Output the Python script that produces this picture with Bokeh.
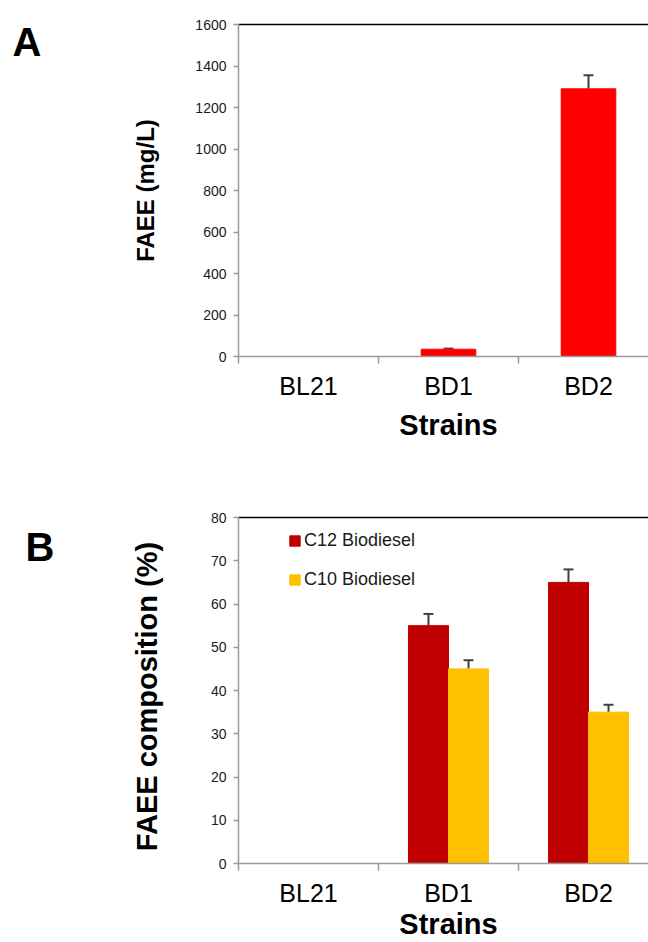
import math
from bokeh.plotting import figure
from bokeh.models import (ColumnDataSource, FixedTicker, Whisker, TeeHead, Label,
                          Legend, LegendItem, Range1d, LinearAxis)
from bokeh.layouts import column
from bokeh.embed import file_html
from bokeh.resources import INLINE

# ---------------- data ----------------
strains = ["BL21", "BD1", "BD2"]
faee_mgL = [0, 35, 1290]
faee_err = [0, 3, 65]
c12_pct = [0, 55, 65]
c12_err = [0, 2.7, 3.0]
c10_pct = [0, 45, 35]
c10_err = [0, 2.0, 1.7]
yticks_a = [0, 200, 400, 600, 800, 1000, 1200, 1400, 1600]
yticks_b = [0, 10, 20, 30, 40, 50, 60, 70, 80]

FONT = "Liberation Sans"
AXIS_GRAY = "#9a9a9a"
ERR_COL = "#404040"

# layout (pixels)
W = 648
PLOT_LEFT = 238
CAT_PX = 140

xs = [i + 0.5 for i in range(len(strains))]
x_end = (W - PLOT_LEFT) / CAT_PX


def base_fig(height, plot_top, plot_bottom, yticks):
    ymax = yticks[-1]
    scale = ymax / (plot_bottom - plot_top)        # data units per pixel
    y0 = -(height - plot_bottom) * scale
    y1 = ymax + plot_top * scale
    p = figure(width=W, height=height,
               x_range=Range1d(-PLOT_LEFT / CAT_PX, x_end), y_range=Range1d(y0, y1),
               x_axis_type=None, y_axis_type=None,
               output_backend="svg", toolbar_location=None,
               min_border=0, min_border_left=0, min_border_right=0,
               min_border_top=0, min_border_bottom=0)
    p.outline_line_color = None
    p.grid.visible = False
    p.background_fill_color = "white"
    p.border_fill_color = "white"

    xa = LinearAxis(fixed_location=0, bounds=(0, x_end))
    xa.ticker = FixedTicker(ticks=xs, minor_ticks=list(range(len(strains) + 1)))
    xa.major_label_overrides = {x: s for x, s in zip(xs, strains)}
    xa.major_tick_out = 0
    xa.major_tick_in = 0
    xa.minor_tick_out = 7
    xa.minor_tick_in = 0
    xa.minor_tick_line_color = AXIS_GRAY
    xa.minor_tick_line_width = 1.5
    xa.axis_line_color = AXIS_GRAY
    xa.axis_line_width = 1.5
    xa.major_label_text_font = FONT
    xa.major_label_text_font_size = "25px"
    xa.major_label_text_color = "black"
    xa.major_label_standoff = 8
    p.add_layout(xa, "below")

    ya = LinearAxis(fixed_location=0, bounds=(0, ymax))
    ya.ticker = FixedTicker(ticks=yticks)
    ya.major_tick_out = 5
    ya.major_tick_in = 0
    ya.minor_tick_out = 0
    ya.minor_tick_in = 0
    ya.major_tick_line_color = AXIS_GRAY
    ya.major_tick_line_width = 1.5
    ya.axis_line_color = AXIS_GRAY
    ya.axis_line_width = 1.5
    ya.major_label_text_font = FONT
    ya.major_label_text_font_size = "14px"
    ya.major_label_text_color = "#1a1a1a"
    ya.major_label_standoff = 7
    p.add_layout(ya, "left")

    top = LinearAxis(fixed_location=ymax, bounds=(0, x_end))
    top.ticker = FixedTicker(ticks=[])
    top.major_tick_out = 0
    top.major_tick_in = 0
    top.minor_tick_out = 0
    top.minor_tick_in = 0
    top.axis_line_color = "black"
    top.axis_line_width = 1.5
    top.major_label_text_font_size = "0px"
    p.add_layout(top, "above")
    return p


def add_err(p, x, vals, errs):
    rows = [(xx, v, e) for xx, v, e in zip(x, vals, errs) if v > 0]
    src = ColumnDataSource(dict(x=[r[0] for r in rows],
                                lower=[r[1] for r in rows],
                                upper=[r[1] + r[2] for r in rows]))
    w = Whisker(base="x", lower="lower", upper="upper", source=src,
                dimension="height", line_color=ERR_COL, line_width=2,
                upper_head=TeeHead(size=10, line_color=ERR_COL, line_width=2),
                lower_head=None)
    p.add_layout(w)


def add_text(p, text, x, y, size, align="left", baseline="alphabetic", angle=0.0):
    p.add_layout(Label(x=x, y=y, x_units="screen", y_units="screen", text=text,
                       text_font=FONT, text_font_size=size, text_font_style="bold",
                       text_align=align, text_baseline=baseline, angle=angle,
                       text_color="black"))


# ---------------- panel A ----------------
HA = 470
pa = base_fig(HA, 24, 356, yticks_a)
src_a = ColumnDataSource(dict(x=xs, top=faee_mgL))
pa.vbar(x="x", top="top", width=0.39, source=src_a,
        fill_color="#FF0000", line_color="#FF0000")
add_err(pa, xs, faee_mgL, faee_err)
add_text(pa, "A", 12, 429, "40px")
add_text(pa, "Strains", 448, 46, "29px", align="center")
add_text(pa, "FAEE (mg/L)", 145, HA - 190, "24px", align="center",
         baseline="middle", angle=math.pi / 2)

# ---------------- panel B ----------------
HB = 472
pb = base_fig(HB, 47, 393, yticks_b)
off = 0.143
bw = 0.286
x12 = [x - off for x in xs]
x10 = [x + off for x in xs]
r12 = pb.vbar(x=x12, top=c12_pct, width=bw, fill_color="#C00000", line_color="#C00000")
r10 = pb.vbar(x=x10, top=c10_pct, width=bw, fill_color="#FFC000", line_color="#FFC000")
add_err(pb, x12, c12_pct, c12_err)
add_err(pb, x10, c10_pct, c10_err)
legend = Legend(items=[LegendItem(label="C12 Biodiesel", renderers=[r12]),
                       LegendItem(label="C10 Biodiesel", renderers=[r10])],
                location=(288, 352), glyph_width=13, glyph_height=13,
                label_height=21, spacing=18, padding=0, margin=0,
                border_line_color=None, background_fill_alpha=0,
                label_text_font=FONT, label_text_font_size="18px",
                label_text_color="#1a1a1a", label_standoff=3)
pb.add_layout(legend)
add_text(pb, "B", 25, 396, "40px")
add_text(pb, "Strains", 448, 19, "29px", align="center")
add_text(pb, "FAEE composition (%)", 146, HB - 226, "29px", align="center",
         baseline="middle", angle=math.pi / 2)

layout = column(pa, pb)
open("out.html", "w").write(file_html(layout, INLINE))
